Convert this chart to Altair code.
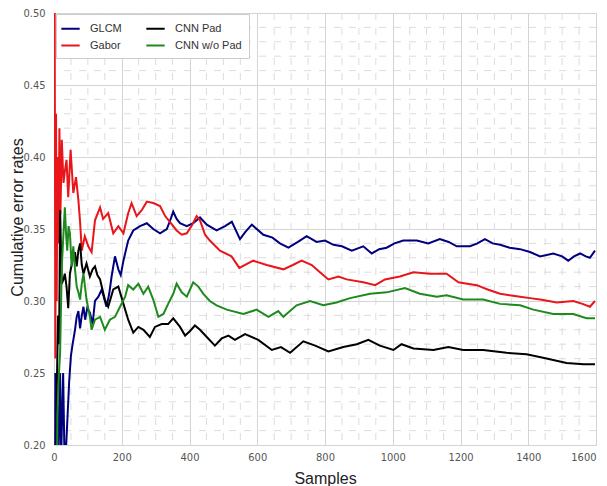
import altair as alt
import pandas as pd

series_names = ["GLCM", "Gabor", "CNN Pad", "CNN w/o Pad"]
series_colors = ["#00007F", "#E8161B", "#000000", "#1E8A1E"]

glcm_x = [1, 4, 6, 9, 12, 18, 21, 27, 31, 36, 40, 45, 50, 55, 62, 67, 72, 77, 82, 87, 92, 98, 106, 114, 121, 131, 141, 148, 155, 163, 170, 180, 190, 197, 205, 212, 219, 234, 254, 274, 293, 313, 333, 343, 352, 362, 372, 392, 411, 431, 451, 480, 505, 525, 549, 565, 584, 618, 645, 667, 692, 720, 746, 775, 800, 825, 850, 879, 913, 938, 960, 982, 1005, 1031, 1071, 1105, 1139, 1165, 1189, 1228, 1250, 1272, 1295, 1317, 1345, 1376, 1405, 1435, 1474, 1500, 1518, 1535, 1553, 1570, 1582, 1597]
glcm_y = [0.0, 0.25, 0.17, 0.25, 0.18, 0.25, 0.19, 0.25, 0.19, 0.20, 0.22, 0.245, 0.262, 0.27, 0.28, 0.289, 0.293, 0.281, 0.29, 0.296, 0.287, 0.295, 0.292, 0.284, 0.300, 0.303, 0.308, 0.302, 0.296, 0.305, 0.317, 0.331, 0.322, 0.318, 0.328, 0.335, 0.342, 0.349, 0.352, 0.354, 0.350, 0.347, 0.350, 0.356, 0.362, 0.357, 0.354, 0.352, 0.354, 0.358, 0.353, 0.349, 0.352, 0.355, 0.343, 0.348, 0.353, 0.346, 0.344, 0.340, 0.337, 0.341, 0.345, 0.341, 0.342, 0.339, 0.338, 0.335, 0.338, 0.333, 0.336, 0.337, 0.340, 0.342, 0.342, 0.340, 0.343, 0.341, 0.338, 0.338, 0.340, 0.343, 0.340, 0.339, 0.337, 0.336, 0.334, 0.331, 0.333, 0.331, 0.328, 0.331, 0.333, 0.331, 0.330, 0.335]

gabor_x = [1, 2, 4, 6, 8, 10, 13, 16, 19, 23, 28, 32, 37, 42, 49, 57, 65, 72, 77, 82, 91, 101, 111, 121, 136, 145, 160, 175, 190, 205, 219, 229, 244, 259, 274, 293, 313, 328, 342, 362, 377, 392, 406, 421, 431, 446, 460, 490, 524, 547, 588, 628, 677, 705, 731, 761, 785, 810, 840, 864, 913, 948, 977, 1021, 1061, 1110, 1159, 1194, 1220, 1248, 1280, 1317, 1345, 1376, 1405, 1435, 1460, 1484, 1533, 1560, 1582, 1597]
gabor_y = [0.50, 0.50, 0.26, 0.43, 0.30, 0.40, 0.34, 0.42, 0.36, 0.412, 0.382, 0.39, 0.398, 0.372, 0.405, 0.375, 0.386, 0.370, 0.355, 0.335, 0.345, 0.338, 0.334, 0.356, 0.365, 0.357, 0.361, 0.347, 0.352, 0.347, 0.361, 0.368, 0.359, 0.363, 0.369, 0.368, 0.366, 0.359, 0.355, 0.349, 0.346, 0.347, 0.352, 0.359, 0.356, 0.346, 0.342, 0.335, 0.331, 0.323, 0.328, 0.325, 0.322, 0.325, 0.328, 0.325, 0.320, 0.315, 0.317, 0.315, 0.313, 0.311, 0.315, 0.317, 0.320, 0.319, 0.319, 0.313, 0.312, 0.311, 0.308, 0.305, 0.304, 0.303, 0.302, 0.301, 0.300, 0.299, 0.300, 0.298, 0.296, 0.300]

cnnpad_x = [1, 3, 6, 9, 12, 15, 18, 23, 28, 32, 37, 42, 47, 52, 57, 62, 67, 72, 77, 82, 87, 96, 106, 114, 121, 128, 136, 150, 160, 175, 190, 205, 219, 234, 249, 264, 283, 298, 318, 337, 352, 372, 387, 401, 416, 431, 451, 475, 495, 515, 534, 564, 603, 643, 670, 697, 736, 771, 810, 854, 894, 928, 962, 1002, 1026, 1061, 1120, 1164, 1208, 1267, 1336, 1395, 1454, 1513, 1563, 1597]
cnnpad_y = [0.0, 0.20, 0.15, 0.25, 0.29, 0.27, 0.363, 0.312, 0.315, 0.319, 0.310, 0.295, 0.319, 0.325, 0.331, 0.334, 0.324, 0.335, 0.340, 0.325, 0.319, 0.326, 0.317, 0.322, 0.324, 0.318, 0.315, 0.301, 0.296, 0.308, 0.310, 0.298, 0.287, 0.278, 0.282, 0.280, 0.275, 0.282, 0.284, 0.284, 0.288, 0.282, 0.276, 0.279, 0.283, 0.280, 0.275, 0.269, 0.274, 0.276, 0.273, 0.277, 0.273, 0.266, 0.268, 0.264, 0.272, 0.269, 0.265, 0.268, 0.270, 0.273, 0.269, 0.266, 0.270, 0.267, 0.266, 0.268, 0.266, 0.266, 0.264, 0.263, 0.260, 0.257, 0.256, 0.256]

cnnwo_x = [1, 4, 8, 10, 13, 18, 23, 28, 32, 36, 39, 43, 47, 52, 57, 62, 67, 72, 77, 82, 87, 96, 106, 111, 121, 136, 150, 165, 180, 195, 210, 219, 234, 249, 264, 278, 293, 308, 323, 337, 352, 362, 377, 392, 411, 426, 441, 460, 480, 510, 559, 598, 633, 662, 677, 716, 756, 795, 834, 874, 933, 982, 1036, 1080, 1130, 1159, 1208, 1267, 1317, 1376, 1415, 1474, 1533, 1572, 1597]
cnnwo_y = [0.0, 0.20, 0.15, 0.22, 0.243, 0.264, 0.324, 0.347, 0.365, 0.345, 0.335, 0.352, 0.347, 0.324, 0.338, 0.322, 0.310, 0.306, 0.301, 0.312, 0.319, 0.301, 0.289, 0.280, 0.287, 0.289, 0.280, 0.287, 0.289, 0.296, 0.303, 0.311, 0.308, 0.312, 0.305, 0.310, 0.301, 0.289, 0.291, 0.298, 0.305, 0.312, 0.306, 0.303, 0.313, 0.310, 0.305, 0.300, 0.297, 0.294, 0.291, 0.294, 0.289, 0.293, 0.289, 0.297, 0.300, 0.297, 0.299, 0.302, 0.305, 0.306, 0.309, 0.305, 0.303, 0.304, 0.301, 0.301, 0.298, 0.297, 0.294, 0.291, 0.291, 0.288, 0.288]

x_ticks = [0, 200, 400, 600, 800, 1000, 1200, 1400, 1600]
y_ticks = [0.20, 0.25, 0.30, 0.35, 0.40, 0.45, 0.50]
x_minor = [v for v in range(50, 1600, 50) if v % 200 != 0]
y_minor = [round(0.20 + 0.01 * i, 2) for i in range(1, 30) if i % 5 != 0]

rows = []
for name, xs, ys in [("GLCM", glcm_x, glcm_y), ("Gabor", gabor_x, gabor_y),
                     ("CNN Pad", cnnpad_x, cnnpad_y), ("CNN w/o Pad", cnnwo_x, cnnwo_y)]:
    for i, (a, b) in enumerate(zip(xs, ys)):
        rows.append({"series": name, "sample": a, "rate": b, "order": i})
df = pd.DataFrame(rows)

tick_font = "Liberation Sans Narrow, DejaVu Sans Condensed, Liberation Sans, sans-serif"
title_font = "Liberation Sans, Arial, sans-serif"

xscale = alt.Scale(domain=[0, 1600], nice=False)
yscale = alt.Scale(domain=[0.20, 0.50], nice=False, zero=False)

vgrid = alt.Chart(pd.DataFrame({"v": x_minor})).mark_rule(
    color="#dcdcdc", strokeWidth=1, strokeDash=[7, 8]
).encode(x=alt.X("v:Q", scale=xscale))
hgrid = alt.Chart(pd.DataFrame({"v": y_minor})).mark_rule(
    color="#dcdcdc", strokeWidth=1, strokeDash=[7, 8]
).encode(y=alt.Y("v:Q", scale=yscale))

lines = alt.Chart(df).mark_line(strokeWidth=2, clip=True).encode(
    x=alt.X("sample:Q", scale=xscale, title="Samples",
            axis=alt.Axis(values=x_ticks, format="d", grid=True, gridColor="#d4d4d4",
                          domain=False, ticks=False, labelPadding=6,
                          labelFontSize=11, titleFontSize=16, labelColor="#555",
                          titleColor="#222", titleFontWeight="normal",
                          labelFont=tick_font, titleFont=title_font,
                          titleY=38, titleBaseline="alphabetic",
                          labelAlign={"condition": {"test": "datum.value >= 1600", "value": "right"}, "value": "center"})),
    y=alt.Y("rate:Q", scale=yscale, title="Cumulative error rates",
            axis=alt.Axis(values=y_ticks, format=".2f", grid=True, gridColor="#d4d4d4",
                          domain=False, ticks=False, labelPadding=9,
                          labelFontSize=11, titleFontSize=16, labelColor="#555",
                          titleColor="#222", titleFontWeight="normal",
                          labelFont=tick_font, titleFont=title_font,
                          titleX=-32, titleY=204, titleBaseline="alphabetic",
                          titleAngle=270, titleAlign="center")),
    color=alt.Color("series:N", scale=alt.Scale(domain=series_names, range=series_colors),
                    legend=alt.Legend(title=None, orient="none", legendX=2, legendY=1,
                                      columns=2, symbolType="M-1.5,0L1.5,0", symbolSize=150,
                                      symbolStrokeWidth=2, labelFontSize=11, labelOffset=12,
                                      labelFont=title_font, labelColor="#333",
                                      fillColor="white", strokeColor="#cccccc",
                                      padding=7, columnPadding=20, rowPadding=4)),
    detail="series:N",
    order="order:Q",
)

chart = alt.layer(vgrid, hgrid, lines).properties(
    width=542, height=432,
    autosize=alt.AutoSizeParams(type="none"),
    padding={"left": 46, "top": 5, "right": 3, "bottom": 41},
).configure_view(stroke="#cccccc", strokeWidth=1)

chart.save("out.html", embed_options={"renderer": "svg", "actions": False})
